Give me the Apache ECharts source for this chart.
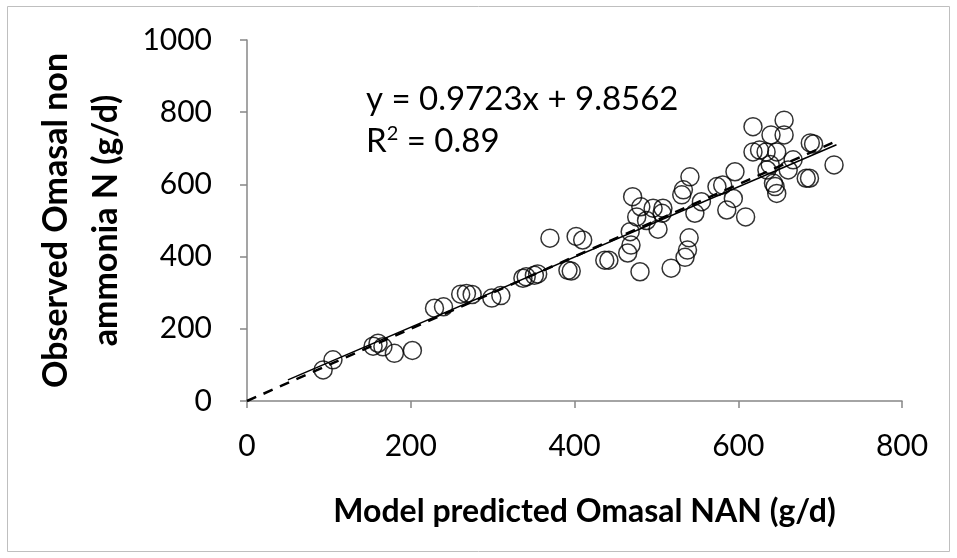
<!DOCTYPE html>
<html>
<head>
<meta charset="utf-8">
<script src="https://cdn.jsdelivr.net/npm/echarts@6/dist/echarts.min.js"></script>
<style>
  html, body { margin: 0; padding: 0; background: #fff; }
  #chart { width: 957px; height: 558px; }
</style>
</head>
<body>
<div id="chart"></div>
<script>
// Model predicted omasal NAN (g/d)
const predicted = [
  93, 105, 154, 160, 166, 180, 202, 229, 240, 261, 268, 275, 299, 310,
  337, 341, 351, 355, 370, 392, 396, 402, 410, 437, 442, 465, 468, 469,
  471, 476, 480, 481, 488, 496, 502, 507, 508, 518, 531, 533, 535, 538,
  540, 541, 547, 555, 574, 581, 586, 594, 596, 609, 618, 618, 626, 634,
  635, 640, 639, 643, 645, 647, 647, 656, 656, 661, 667, 683, 687, 688,
  692, 717
];
// Observed omasal non ammonia N (g/d)
const observed = [
  86, 114, 152, 160, 150, 132, 140, 257, 261, 296, 298, 295, 285, 292,
  340, 344, 348, 352, 451, 362, 360, 456, 446, 390, 390, 410, 469, 432,
  566, 510, 358, 538, 500, 534, 476, 520, 534, 368, 571, 585, 398, 418,
  452, 621, 520, 552, 594, 598, 529, 561, 635, 510, 760, 690, 695, 690,
  640, 737, 655, 603, 594, 575, 690, 778, 737, 640, 668, 617, 617, 715,
  712, 654
];

// Fitted trend line: y = 0.9723x + 9.8562
const slope = 0.9723;
const intercept = 9.8562;
const trendX = [50, 720];
// Reference 1:1 line
const unityX = [0, 715];

const xTicks = [0, 200, 400, 600, 800];
const yTicks = [0, 200, 400, 600, 800, 1000];

const points = predicted.map((x, i) => [x, observed[i]]);
const trendLine = trendX.map(x => [x, slope * x + intercept]);
const unityLine = unityX.map(x => [x, x]);

const font = 'Lato, "Open Sans", "DejaVu Sans", sans-serif';
const axisGray = '#878787';

const chart = echarts.init(document.getElementById('chart'), null, { renderer: 'canvas' });
chart.setOption({
  animation: false,
  backgroundColor: '#fff',
  grid: { left: 247, top: 40, right: 55, bottom: 157, containLabel: false },
  xAxis: {
    type: 'value',
    min: xTicks[0], max: xTicks[xTicks.length - 1], interval: 200,
    axisLine: { show: true, lineStyle: { color: axisGray, width: 1.5 } },
    axisTick: { show: true, inside: false, length: 7, lineStyle: { color: axisGray, width: 1.5 } },
    splitLine: { show: false },
    axisLabel: { color: '#000', fontSize: 30, fontFamily: font, margin: 30 },
    name: 'Model predicted Omasal NAN (g/d)',
    nameLocation: 'middle',
    nameGap: 95,
    nameTextStyle: { color: '#000', fontSize: 32, fontWeight: 'bold', fontFamily: font, padding: [0, 0, 0, 20] }
  },
  yAxis: {
    type: 'value',
    min: yTicks[0], max: yTicks[yTicks.length - 1], interval: 200,
    axisLine: { show: true, lineStyle: { color: axisGray, width: 1.5 } },
    axisTick: { show: true, inside: false, length: 7, lineStyle: { color: axisGray, width: 1.5 } },
    splitLine: { show: false },
    axisLabel: { color: '#000', fontSize: 30, fontFamily: font, margin: 35, formatter: v => String(v) },
    name: 'Observed Omasal non\nammonia N (g/d)',
    nameLocation: 'middle',
    nameGap: 110,
    nameTextStyle: { color: '#000', fontSize: 34, fontWeight: 'bold', fontFamily: font, lineHeight: 50 }
  },
  graphic: [
    {
      type: 'rect',
      shape: { x: 7.5, y: 6.5, width: 942, height: 545 },
      style: { fill: 'none', stroke: '#bfbfbf', lineWidth: 1 },
      z: -1
    },
    {
      type: 'text',
      left: 366, top: 83,
      style: { text: 'y = 0.9723x + 9.8562', fill: '#000', fontSize: 33, fontFamily: font }
    },
    {
      type: 'text',
      left: 366, top: 124,
      style: { text: 'R{sup|2} = 0.89', fill: '#000', fontSize: 33, fontFamily: font,
        rich: { sup: { fontSize: 20, verticalAlign: 'top', padding: [0, 0, 14, 0], fontFamily: font } } }
    }
  ],
  series: [
    {
      type: 'line',
      data: unityLine,
      symbol: 'none',
      lineStyle: { color: '#000', width: 2.5, type: [10, 8] },
      z: 3
    },
    {
      type: 'line',
      data: trendLine,
      symbol: 'none',
      lineStyle: { color: '#000', width: 1.5 },
      z: 3
    },
    {
      type: 'scatter',
      data: points,
      symbol: 'circle',
      symbolSize: 18,
      itemStyle: { color: 'rgba(0,0,0,0)', borderColor: '#000', borderWidth: 1.5 },
      z: 4
    }
  ]
});
</script>
</body>
</html>
